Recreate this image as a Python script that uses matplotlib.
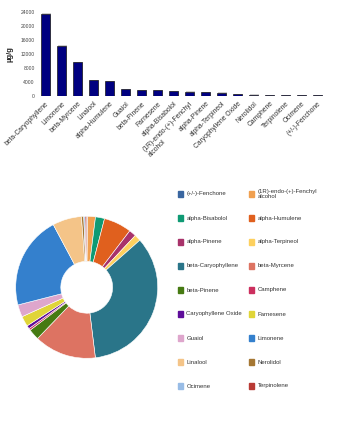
import matplotlib

matplotlib.use('Agg')
import matplotlib.pyplot as plt
from matplotlib.patches import Rectangle

plt.rcParams['font.family'] = ['Liberation Sans', 'DejaVu Sans']

# bar chart, sorted by amount
bar_names = ["beta-Caryophyllene", "Limonene", "beta-Myrcene", "Linalool", "alpha-Humulene",
             "Guaiol", "beta-Pinene", "Farnesene", "alpha-Bisabolol",
             "(1R)-endo-(+)-Fenchyl\nalcohol", "alpha-Pinene", "alpha-Terpineol",
             "Caryophyllene Oxide", "Nerolidol", "Camphene", "Terpinolene", "Ocimene",
             "(+/-)-Fenchone"]
bar_values = [23500, 14400, 9600, 4500, 4300, 1900, 1700, 1600, 1400, 1200, 1100, 1000,
              500, 350, 300, 250, 200, 150]
y_ticks = [0, 4000, 8000, 12000, 16000, 20000, 24000]

# donut, alphabetical
pie_names = ["(+/-)-Fenchone", "(1R)-endo-(+)-Fenchyl\nalcohol", "alpha-Bisabolol",
             "alpha-Humulene", "alpha-Pinene", "alpha-Terpineol", "beta-Caryophyllene",
             "beta-Myrcene", "beta-Pinene", "Camphene", "Caryophyllene Oxide", "Farnesene",
             "Guaiol", "Limonene", "Linalool", "Nerolidol", "Ocimene", "Terpinolene"]
pie_colors = ["#3a66a0", "#f0a050", "#0f9a74", "#e0601e", "#a8326a", "#fdd05e",
              "#2a7589", "#dd7362", "#467a12", "#cc2f5e", "#5e0d9a", "#e0d538",
              "#dea6cc", "#3480cd", "#f4c488", "#a57733", "#98bce6", "#b93a35"]

lookup = dict(zip(bar_names, bar_values))
pie_values = [lookup[n] for n in pie_names]

W, H = 353, 430
fig = plt.figure(figsize=(W / 100, H / 100), dpi=100)

# ---- bar chart ----
ax = fig.add_axes([37.6 / W, 1 - 96 / H, 288 / W, 84 / H])
x = list(range(len(bar_names)))
# faint shadow behind bars
ax.bar([i + 0.04 for i in x], [v + 90 for v in bar_values], width=0.55, color="#cfcfcf",
       zorder=1)
ax.bar(x, bar_values, width=0.52, color="#000080", edgecolor="#1a1a1a", linewidth=0.5,
       zorder=2)
ax.set_xlim(-0.5, len(bar_names) - 0.5)
ax.set_ylim(0, 24000)
ax.set_yticks(y_ticks)
ax.set_yticklabels([str(t) for t in y_ticks], fontsize=3.6, color="#444444")
ax.set_xticks(x)
ax.set_xticklabels(bar_names, rotation=45, ha="right", rotation_mode="anchor",
                   fontsize=4.9, color="#333333", linespacing=1.1, multialignment="left")
ax.tick_params(length=0, pad=2)
ax.tick_params(axis="x", pad=3)
for s in ax.spines.values():
    s.set_visible(False)
ax.set_ylabel("µg/g", fontsize=5.5, fontweight="bold", color="#222222", labelpad=5)

# ---- donut ----
cx, cy, r = 86.7, 287.3, 71
lim = 1.02
pax = fig.add_axes([(cx - r * lim) / W, 1 - (cy + r * lim) / H, 2 * r * lim / W,
                    2 * r * lim / H])
pax.pie(pie_values, colors=pie_colors, startangle=90, counterclock=False,
        wedgeprops=dict(width=0.635, edgecolor="white", linewidth=0.4))
pax.set_xlim(-lim, lim)
pax.set_ylim(-lim, lim)
pax.set_aspect("equal")

# ---- legend, two columns row by row ----
for i, (name, col) in enumerate(zip(pie_names, pie_colors)):
    row, c = divmod(i, 2)
    x0 = (178 if c == 0 else 249)
    yc = 194 + 24 * row
    fig.patches.append(Rectangle((x0 / W, 1 - (yc + 2.6) / H), 5.2 / W, 5.2 / H,
                                 transform=fig.transFigure, color=col, figure=fig))
    fig.text((x0 + 8.5) / W, 1 - yc / H, name, fontsize=4.3, color="#333333",
             va="center", ha="left", linespacing=1.0)

fig.savefig("out.png", dpi=100)
